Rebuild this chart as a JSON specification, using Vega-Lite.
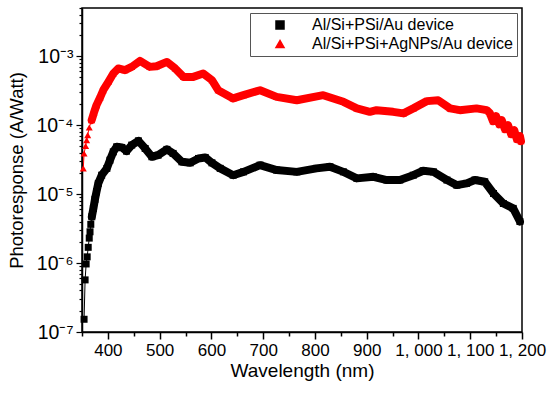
{
  "$schema": "https://vega.github.io/schema/vega-lite/v6.json",
  "width": 440,
  "height": 324,
  "autosize": {"type": "none"},
  "padding": {"left": 82, "top": 8, "right": 28, "bottom": 62},
  "background": "white",
  "config": {"view": {"stroke": "black", "strokeWidth": 1.5}, "font": "Liberation Sans"},
  "data": {"values": [
    {"series": "Al/Si+PSi/Au device", "wl": 354, "r": 1.53e-7},
    {"series": "Al/Si+PSi/Au device", "wl": 356, "r": 5.7e-7},
    {"series": "Al/Si+PSi/Au device", "wl": 358, "r": 9.7e-7},
    {"series": "Al/Si+PSi/Au device", "wl": 360, "r": 1.23e-6},
    {"series": "Al/Si+PSi/Au device", "wl": 362, "r": 1.69e-6},
    {"series": "Al/Si+PSi/Au device", "wl": 364, "r": 2.3e-6},
    {"series": "Al/Si+PSi/Au device", "wl": 365.5, "r": 2.84e-6},
    {"series": "Al/Si+PSi/Au device", "wl": 367, "r": 3.64e-6},
    {"series": "Al/Si+PSi/Au device", "wl": 369, "r": 4.69e-6},
    {"series": "Al/Si+PSi/Au device", "wl": 372, "r": 6.2e-6},
    {"series": "Al/Si+PSi/Au device", "wl": 375, "r": 8.4e-6},
    {"series": "Al/Si+PSi/Au device", "wl": 378, "r": 1.08e-5},
    {"series": "Al/Si+PSi/Au device", "wl": 381.5, "r": 1.43e-5},
    {"series": "Al/Si+PSi/Au device", "wl": 388, "r": 1.88e-5},
    {"series": "Al/Si+PSi/Au device", "wl": 398, "r": 2.36e-5},
    {"series": "Al/Si+PSi/Au device", "wl": 404, "r": 3.11e-5},
    {"series": "Al/Si+PSi/Au device", "wl": 410.5, "r": 4.1e-5},
    {"series": "Al/Si+PSi/Au device", "wl": 417, "r": 4.85e-5},
    {"series": "Al/Si+PSi/Au device", "wl": 427, "r": 4.75e-5},
    {"series": "Al/Si+PSi/Au device", "wl": 436, "r": 4.2e-5},
    {"series": "Al/Si+PSi/Au device", "wl": 446, "r": 5.13e-5},
    {"series": "Al/Si+PSi/Au device", "wl": 459, "r": 5.92e-5},
    {"series": "Al/Si+PSi/Au device", "wl": 472, "r": 4.59e-5},
    {"series": "Al/Si+PSi/Au device", "wl": 485, "r": 3.48e-5},
    {"series": "Al/Si+PSi/Au device", "wl": 497, "r": 3.67e-5},
    {"series": "Al/Si+PSi/Au device", "wl": 514, "r": 4.45e-5},
    {"series": "Al/Si+PSi/Au device", "wl": 526, "r": 3.89e-5},
    {"series": "Al/Si+PSi/Au device", "wl": 543, "r": 2.94e-5},
    {"series": "Al/Si+PSi/Au device", "wl": 559, "r": 2.84e-5},
    {"series": "Al/Si+PSi/Au device", "wl": 575, "r": 3.29e-5},
    {"series": "Al/Si+PSi/Au device", "wl": 588, "r": 3.4e-5},
    {"series": "Al/Si+PSi/Au device", "wl": 601, "r": 2.84e-5},
    {"series": "Al/Si+PSi/Au device", "wl": 617, "r": 2.36e-5},
    {"series": "Al/Si+PSi/Au device", "wl": 642, "r": 1.88e-5},
    {"series": "Al/Si+PSi/Au device", "wl": 662, "r": 2.1e-5},
    {"series": "Al/Si+PSi/Au device", "wl": 694, "r": 2.63e-5},
    {"series": "Al/Si+PSi/Au device", "wl": 726, "r": 2.23e-5},
    {"series": "Al/Si+PSi/Au device", "wl": 765, "r": 2.1e-5},
    {"series": "Al/Si+PSi/Au device", "wl": 803, "r": 2.36e-5},
    {"series": "Al/Si+PSi/Au device", "wl": 829, "r": 2.49e-5},
    {"series": "Al/Si+PSi/Au device", "wl": 855, "r": 2.1e-5},
    {"series": "Al/Si+PSi/Au device", "wl": 881, "r": 1.69e-5},
    {"series": "Al/Si+PSi/Au device", "wl": 913, "r": 1.78e-5},
    {"series": "Al/Si+PSi/Au device", "wl": 939, "r": 1.6e-5},
    {"series": "Al/Si+PSi/Au device", "wl": 964, "r": 1.6e-5},
    {"series": "Al/Si+PSi/Au device", "wl": 990, "r": 1.88e-5},
    {"series": "Al/Si+PSi/Au device", "wl": 1009, "r": 2.18e-5},
    {"series": "Al/Si+PSi/Au device", "wl": 1029, "r": 2.1e-5},
    {"series": "Al/Si+PSi/Au device", "wl": 1055, "r": 1.6e-5},
    {"series": "Al/Si+PSi/Au device", "wl": 1074, "r": 1.35e-5},
    {"series": "Al/Si+PSi/Au device", "wl": 1093, "r": 1.43e-5},
    {"series": "Al/Si+PSi/Au device", "wl": 1109, "r": 1.6e-5},
    {"series": "Al/Si+PSi/Au device", "wl": 1128, "r": 1.51e-5},
    {"series": "Al/Si+PSi/Au device", "wl": 1145, "r": 1.02e-5},
    {"series": "Al/Si+PSi/Au device", "wl": 1164, "r": 7.3e-6},
    {"series": "Al/Si+PSi/Au device", "wl": 1183, "r": 6.2e-6},
    {"series": "Al/Si+PSi/Au device", "wl": 1196, "r": 4.0e-6},
    {"series": "Al/Si+PSi+AgNPs/Au device", "wl": 352.5, "r": 2.36e-5},
    {"series": "Al/Si+PSi+AgNPs/Au device", "wl": 354, "r": 3.89e-5},
    {"series": "Al/Si+PSi+AgNPs/Au device", "wl": 357, "r": 4.97e-5},
    {"series": "Al/Si+PSi+AgNPs/Au device", "wl": 359, "r": 6.07e-5},
    {"series": "Al/Si+PSi+AgNPs/Au device", "wl": 361, "r": 7.16e-5},
    {"series": "Al/Si+PSi+AgNPs/Au device", "wl": 364, "r": 9.27e-5},
    {"series": "Al/Si+PSi+AgNPs/Au device", "wl": 368.7, "r": 1.18e-4},
    {"series": "Al/Si+PSi+AgNPs/Au device", "wl": 373, "r": 1.51e-4},
    {"series": "Al/Si+PSi+AgNPs/Au device", "wl": 378, "r": 1.95e-4},
    {"series": "Al/Si+PSi+AgNPs/Au device", "wl": 385, "r": 2.52e-4},
    {"series": "Al/Si+PSi+AgNPs/Au device", "wl": 391, "r": 3.21e-4},
    {"series": "Al/Si+PSi+AgNPs/Au device", "wl": 401, "r": 4.25e-4},
    {"series": "Al/Si+PSi+AgNPs/Au device", "wl": 410.5, "r": 5.61e-4},
    {"series": "Al/Si+PSi+AgNPs/Au device", "wl": 420, "r": 6.64e-4},
    {"series": "Al/Si+PSi+AgNPs/Au device", "wl": 433, "r": 6.27e-4},
    {"series": "Al/Si+PSi+AgNPs/Au device", "wl": 446, "r": 7.0e-4},
    {"series": "Al/Si+PSi+AgNPs/Au device", "wl": 462, "r": 8.55e-4},
    {"series": "Al/Si+PSi+AgNPs/Au device", "wl": 481, "r": 7.0e-4},
    {"series": "Al/Si+PSi+AgNPs/Au device", "wl": 494, "r": 7.16e-4},
    {"series": "Al/Si+PSi+AgNPs/Au device", "wl": 514, "r": 8.26e-4},
    {"series": "Al/Si+PSi+AgNPs/Au device", "wl": 530, "r": 6.64e-4},
    {"series": "Al/Si+PSi+AgNPs/Au device", "wl": 546, "r": 5.01e-4},
    {"series": "Al/Si+PSi+AgNPs/Au device", "wl": 565, "r": 5.01e-4},
    {"series": "Al/Si+PSi+AgNPs/Au device", "wl": 584, "r": 5.61e-4},
    {"series": "Al/Si+PSi+AgNPs/Au device", "wl": 601, "r": 4.49e-4},
    {"series": "Al/Si+PSi+AgNPs/Au device", "wl": 613, "r": 3.21e-4},
    {"series": "Al/Si+PSi+AgNPs/Au device", "wl": 642, "r": 2.44e-4},
    {"series": "Al/Si+PSi+AgNPs/Au device", "wl": 662, "r": 2.72e-4},
    {"series": "Al/Si+PSi+AgNPs/Au device", "wl": 694, "r": 3.21e-4},
    {"series": "Al/Si+PSi+AgNPs/Au device", "wl": 726, "r": 2.57e-4},
    {"series": "Al/Si+PSi+AgNPs/Au device", "wl": 765, "r": 2.3e-4},
    {"series": "Al/Si+PSi+AgNPs/Au device", "wl": 816, "r": 2.72e-4},
    {"series": "Al/Si+PSi+AgNPs/Au device", "wl": 855, "r": 2.18e-4},
    {"series": "Al/Si+PSi+AgNPs/Au device", "wl": 881, "r": 1.75e-4},
    {"series": "Al/Si+PSi+AgNPs/Au device", "wl": 906, "r": 1.56e-4},
    {"series": "Al/Si+PSi+AgNPs/Au device", "wl": 919, "r": 1.65e-4},
    {"series": "Al/Si+PSi+AgNPs/Au device", "wl": 951, "r": 1.56e-4},
    {"series": "Al/Si+PSi+AgNPs/Au device", "wl": 971, "r": 1.48e-4},
    {"series": "Al/Si+PSi+AgNPs/Au device", "wl": 990, "r": 1.75e-4},
    {"series": "Al/Si+PSi+AgNPs/Au device", "wl": 1016, "r": 2.23e-4},
    {"series": "Al/Si+PSi+AgNPs/Au device", "wl": 1038, "r": 2.3e-4},
    {"series": "Al/Si+PSi+AgNPs/Au device", "wl": 1061, "r": 1.75e-4},
    {"series": "Al/Si+PSi+AgNPs/Au device", "wl": 1080, "r": 1.65e-4},
    {"series": "Al/Si+PSi+AgNPs/Au device", "wl": 1112, "r": 1.75e-4},
    {"series": "Al/Si+PSi+AgNPs/Au device", "wl": 1132, "r": 1.65e-4},
    {"series": "Al/Si+PSi+AgNPs/Au device", "wl": 1138, "r": 1.49e-4},
    {"series": "Al/Si+PSi+AgNPs/Au device", "wl": 1144, "r": 1.14e-4},
    {"series": "Al/Si+PSi+AgNPs/Au device", "wl": 1150, "r": 1.35e-4},
    {"series": "Al/Si+PSi+AgNPs/Au device", "wl": 1156, "r": 1.03e-4},
    {"series": "Al/Si+PSi+AgNPs/Au device", "wl": 1161, "r": 1.18e-4},
    {"series": "Al/Si+PSi+AgNPs/Au device", "wl": 1167, "r": 8.75e-5},
    {"series": "Al/Si+PSi+AgNPs/Au device", "wl": 1173, "r": 1.0e-4},
    {"series": "Al/Si+PSi+AgNPs/Au device", "wl": 1179, "r": 7.41e-5},
    {"series": "Al/Si+PSi+AgNPs/Au device", "wl": 1185, "r": 8.47e-5},
    {"series": "Al/Si+PSi+AgNPs/Au device", "wl": 1190, "r": 6.27e-5},
    {"series": "Al/Si+PSi+AgNPs/Au device", "wl": 1196, "r": 6.93e-5},
    {"series": "Al/Si+PSi+AgNPs/Au device", "wl": 1198, "r": 5.86e-5}
  ]},
  "encoding": {
    "x": {
      "field": "wl", "type": "quantitative",
      "scale": {"domain": [350, 1200], "nice": false, "zero": false},
      "axis": {
        "title": "Wavelength (nm)", "titleFont": "Liberation Sans", "titleFontSize": 19, "titleFontWeight": "normal", "titleColor": "black", "titlePadding": 3,
        "values": [350, 400, 450, 500, 550, 600, 650, 700, 750, 800, 850, 900, 950, 1000, 1050, 1100, 1150, 1200],
        "labelExpr": "datum.value % 100 != 0 ? '' : (datum.value >= 1000 ? '1, ' + format(datum.value - 1000, '03d') : format(datum.value, 'd'))",
        "labelFont": "Liberation Sans", "labelFontSize": 17, "labelColor": "black", "labelPadding": 3,
        "labelOverlap": false, "labelFlush": false, "grid": false,
        "domainColor": "black", "domainWidth": 1.5, "tickColor": "black", "tickWidth": 1.5,
        "tickSize": {"condition": {"test": "datum.value % 100 == 0", "value": 7}, "value": 4}
      }
    },
    "y": {
      "field": "r", "type": "quantitative",
      "scale": {"type": "log", "domain": [1e-7, 0.005], "nice": false},
      "axis": {
        "title": "Photoresponse (A/Watt)", "titleFont": "Liberation Sans", "titleFontSize": 18.5, "titleFontWeight": "normal", "titleColor": "black", "titlePadding": 9,
        "values": [1e-7, 2e-7, 3e-7, 4e-7, 5e-7, 6e-7, 7e-7, 8e-7, 9e-7, 1e-6, 2e-6, 3e-6, 4e-6, 5e-6, 6e-6, 7e-6, 8e-6, 9e-6, 1e-5, 2e-5, 3e-5, 4e-5, 5e-5, 6e-5, 7e-5, 8e-5, 9e-5, 1e-4, 2e-4, 3e-4, 4e-4, 5e-4, 6e-4, 7e-4, 8e-4, 9e-4, 1e-3, 2e-3, 3e-3, 4e-3, 5e-3],
        "labelExpr": "abs(log(datum.value)/LN10 - round(log(datum.value)/LN10)) < 0.001 ? '10⁻' + ['⁰','¹','²','³','⁴','⁵','⁶','⁷'][-round(log(datum.value)/LN10)] : ''",
        "labelFont": "Liberation Sans", "labelFontSize": 19.5, "labelColor": "black", "labelPadding": 3,
        "labelOverlap": false, "grid": false,
        "domainColor": "black", "domainWidth": 1.5, "tickColor": "black", "tickWidth": 1.2,
        "tickSize": {"condition": {"test": "abs(log(datum.value)/LN10 - round(log(datum.value)/LN10)) < 0.001", "value": 6}, "value": 3}
      }
    },
    "stroke": {
      "field": "series", "type": "nominal",
      "scale": {"domain": ["Al/Si+PSi/Au device", "Al/Si+PSi+AgNPs/Au device"], "range": ["#000000", "#ff0000"]},
      "legend": {
        "title": null, "orient": "top-right", "offset": 5, "padding": 4,
        "strokeColor": "#555555", "fillColor": "white",
        "labelFont": "Liberation Sans", "labelFontSize": 16, "labelColor": "black", "labelLimit": 400,
        "symbolSize": 64, "symbolOffset": 18, "labelOffset": 24, "rowPadding": 3
      }
    }
  },
  "layer": [
    {
      "transform": [{"filter": "datum.wl >= 368"}],
      "mark": {"type": "line", "strokeWidth": 8, "strokeJoin": "round", "strokeCap": "round"}
    },
    {
      "mark": {"type": "line", "strokeWidth": 1}
    },
    {
      "mark": {"type": "point", "filled": true, "opacity": 1, "size": 49, "strokeWidth": 0},
      "encoding": {
        "stroke": {"value": null},
        "color": {"field": "series", "type": "nominal", "scale": {"domain": ["Al/Si+PSi/Au device", "Al/Si+PSi+AgNPs/Au device"], "range": ["#000000", "#ff0000"]}, "legend": null},
        "shape": {"field": "series", "type": "nominal", "scale": {"domain": ["Al/Si+PSi/Au device", "Al/Si+PSi+AgNPs/Au device"], "range": ["square", "triangle-up"]}, "legend": null}
      }
    }
  ]
}
